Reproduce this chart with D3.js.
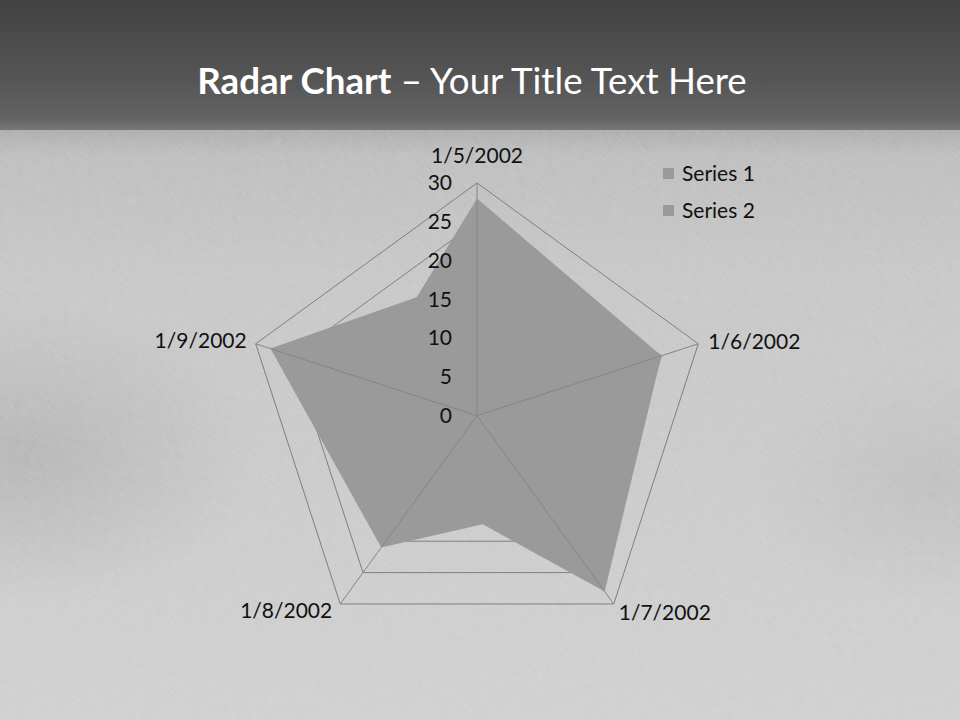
<!DOCTYPE html>
<html>
<head>
<meta charset="utf-8">
<script src="https://cdn.jsdelivr.net/npm/d3@7"></script>
<style>
html,body{margin:0;padding:0;background:#c8c8c8;}
svg{display:block;}
</style>
</head>
<body>
<svg id="chart" width="960" height="720"></svg>
<script>
// ---- data ----
const categories = ["1/5/2002", "1/6/2002", "1/7/2002", "1/8/2002", "1/9/2002"];
const seriesNames = ["Series 1", "Series 2"];
const series1 = [28, 25, 28, 12, 15];
const series2 = [18, 12, 15, 21, 28];
const tickValues = [0, 5, 10, 15, 20, 25, 30];
const axisMax = 30;
const titleBold = "Radar Chart";
const titleRest = " \u2013 Your Title Text Here";

// ---- layout ----
const W = 960, H = 720;
const cx = 477, cy = 415.7, R = 232.7;
const svg = d3.select("#chart");
const FONT = "Lato, 'Open Sans', sans-serif";

// background
const defs = svg.append("defs");
const bodyGrad = defs.append("linearGradient").attr("id","bodyGrad").attr("x1",0).attr("y1",0).attr("x2",0).attr("y2",1);
[[0,"#a9a9a9"],[0.05,"#bdbdbd"],[0.25,"#c6c6c6"],[0.6,"#cacaca"],[1,"#cfcfcf"]].forEach(s=>bodyGrad.append("stop").attr("offset",s[0]).attr("stop-color",s[1]));
const headGrad = defs.append("linearGradient").attr("id","headGrad").attr("x1",0).attr("y1",0).attr("x2",0).attr("y2",1);
[[0,"#424242"],[0.6,"#555555"],[0.9,"#626262"],[1,"#777777"]].forEach(s=>headGrad.append("stop").attr("offset",s[0]).attr("stop-color",s[1]));
const sideGrad = defs.append("radialGradient").attr("id","sideGrad").attr("cx",0.02).attr("cy",0.55).attr("r",0.25);
sideGrad.append("stop").attr("offset",0).attr("stop-color","#b0b0b0").attr("stop-opacity",0.8);
sideGrad.append("stop").attr("offset",1).attr("stop-color","#b0b0b0").attr("stop-opacity",0);
const sideGrad2 = defs.append("radialGradient").attr("id","sideGrad2").attr("cx",0.98).attr("cy",0.6).attr("r",0.2);
sideGrad2.append("stop").attr("offset",0).attr("stop-color","#b8b8b8").attr("stop-opacity",0.6);
sideGrad2.append("stop").attr("offset",1).attr("stop-color","#b8b8b8").attr("stop-opacity",0);
const noise = defs.append("filter").attr("id","noise").attr("x",0).attr("y",0).attr("width","100%").attr("height","100%");
noise.append("feTurbulence").attr("type","fractalNoise").attr("baseFrequency","0.9 0.08").attr("numOctaves",2).attr("seed",3).attr("result","t");
noise.append("feColorMatrix").attr("in","t").attr("type","matrix")
  .attr("values","0 0 0 0 1  0 0 0 0 1  0 0 0 0 1  0 0 0 0.35 -0.08");

svg.append("rect").attr("x",0).attr("y",125).attr("width",W).attr("height",H-125).attr("fill","url(#bodyGrad)");
svg.append("rect").attr("x",0).attr("y",125).attr("width",W).attr("height",H-125).attr("fill","url(#sideGrad)");
svg.append("rect").attr("x",0).attr("y",125).attr("width",W).attr("height",H-125).attr("fill","url(#sideGrad2)");
svg.append("g").attr("transform","rotate(-45 480 420)")
  .append("rect").attr("x",-300).attr("y",-300).attr("width",1560).attr("height",1440)
  .attr("filter","url(#noise)").attr("fill","#fff").attr("opacity",0.6);
svg.append("rect").attr("x",0).attr("y",0).attr("width",W).attr("height",130).attr("fill","url(#headGrad)");

// title
const title = svg.append("text").attr("x",472).attr("y",94).attr("text-anchor","middle")
  .attr("font-family",FONT).attr("font-size",36.7).attr("fill","#ffffff");
title.append("tspan").attr("font-weight","bold").text(titleBold);
title.append("tspan").text(titleRest);

// scales
const rScale = d3.scaleLinear().domain([0, axisMax]).range([0, R]);
const angle = d3.scaleLinear().domain([0, categories.length]).range([-Math.PI/2, 3*Math.PI/2]);
const pt = (i, v) => [cx + rScale(v)*Math.cos(angle(i)), cy + rScale(v)*Math.sin(angle(i))];

const g = svg.append("g");

// rings
tickValues.filter(v=>v>0).forEach(v=>{
  g.append("path")
    .attr("d", d3.line()(categories.map((c,i)=>pt(i,v))) + "Z")
    .attr("fill","none").attr("stroke","#7f7f7f").attr("stroke-width",1);
});

// series fills
const line = d3.line();
[series1, series2].forEach((s)=>{
  g.append("path")
    .attr("d", line(s.map((v,i)=>pt(i,v))) + "Z")
    .attr("fill","#9a9a9a").attr("stroke","none");
});

// spokes
categories.forEach((c,i)=>{
  const p = pt(i, axisMax);
  g.append("line").attr("x1",cx).attr("y1",cy).attr("x2",p[0]).attr("y2",p[1])
    .attr("stroke","#858585").attr("stroke-width",1);
});

// tick labels
g.selectAll("text.tick").data(tickValues).join("text")
  .attr("class","tick")
  .attr("x", cx - 25).attr("y", d => cy - rScale(d))
  .attr("dy","0.35em").attr("text-anchor","end")
  .attr("font-family",FONT).attr("font-size",21).attr("fill","#111")
  .text(d=>d);

// category labels
const catPos = [
  {dx:0, dy:-27, anchor:"middle"},
  {dx:10, dy:-2, anchor:"start"},
  {dx:5, dy:9, anchor:"start"},
  {dx:-8, dy:7, anchor:"end"},
  {dx:-9, dy:-3, anchor:"end"}
];
categories.forEach((c,i)=>{
  const p = pt(i, axisMax);
  g.append("text").attr("x",p[0]+catPos[i].dx).attr("y",p[1]+catPos[i].dy)
    .attr("dy","0.35em").attr("text-anchor",catPos[i].anchor)
    .attr("font-family",FONT).attr("font-size",21).attr("fill","#111")
    .text(c);
});

// legend
const leg = svg.append("g").attr("transform","translate(663,168)");
seriesNames.forEach((s,i)=>{
  leg.append("rect").attr("x",0).attr("y",i*37).attr("width",11).attr("height",11).attr("fill","#9a9a9a");
  leg.append("text").attr("x",19).attr("y",i*37+5.5).attr("dy","0.35em")
    .attr("font-family",FONT).attr("font-size",21).attr("fill","#111").text(s);
});
</script>
</body>
</html>
